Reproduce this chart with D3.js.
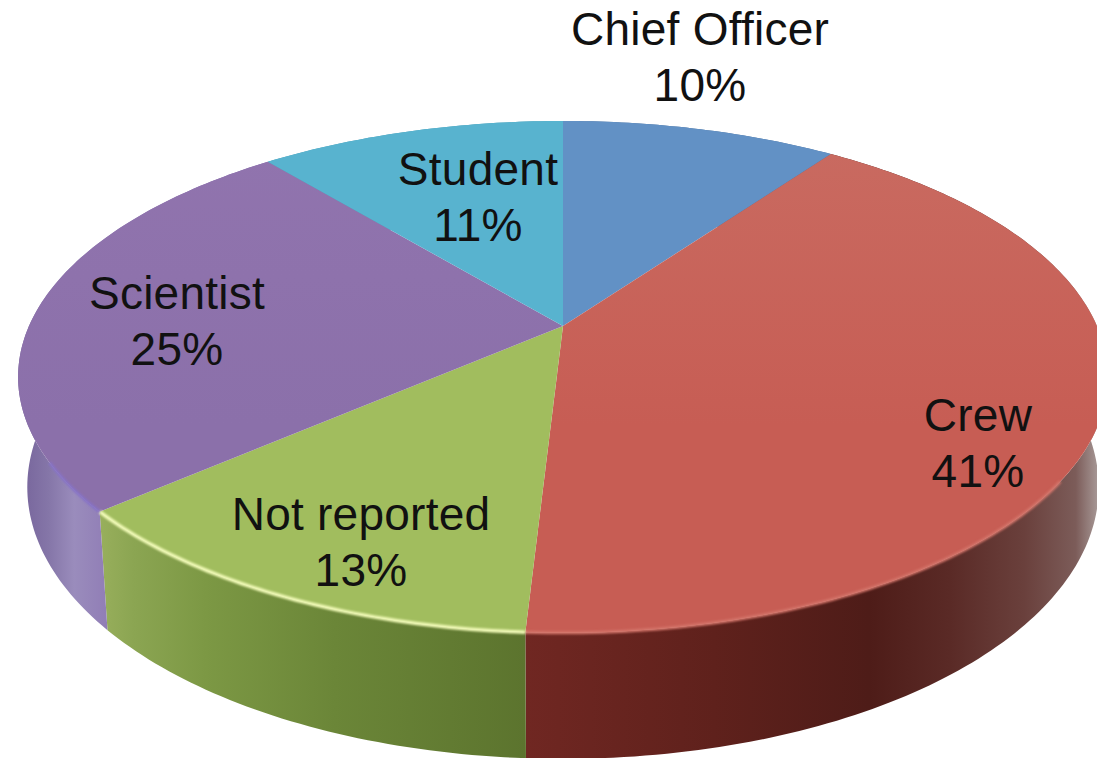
<!DOCTYPE html>
<html>
<head>
<meta charset="utf-8">
<title>Respondents by role</title>
<script src="https://cdn.jsdelivr.net/npm/d3@7"></script>
<style>
  html, body { margin: 0; background: #fff; overflow: hidden; }
  text { font-family: "Liberation Sans", Arial, sans-serif; font-size: 46px; fill: #111; text-anchor: middle; letter-spacing: 0.25px; }
</style>
</head>
<body>
<svg id="chart" width="1097" height="758"></svg>
<script>
// labels round these to 10/41/13/25/11
const categories = ["Chief Officer", "Crew", "Not reported", "Scientist", "Student"];
const shares = [9.9, 41, 12.7, 25.4, 11];

const topColors = ["#6291c5", "#c75d54", "#a1bd5e", "#8b70aa", "#58b3cf"];
const topColorsBack = ["#6291c5", "#c96b61", "#a1bd5e", "#9174ae", "#58b3cf"];

// bevel highlight: colour and which part of the slice's arc it covers
const rimColors = [null, "#d4756a", "#f2fbb8", "#8672c6", null];
const rimSpans = [null, [0.6, 1], [0, 1], [0, 0.12], null];

// offset, colour pairs for the side wall of each slice
const wallStops = [
  [[0, "#4a6f9c"], [1, "#4a6f9c"]],
  [[0, "#702722"], [0.33, "#5f211c"], [0.6, "#4e1c18"], [0.74, "#5a2a26"], [0.87, "#6a403c"], [0.96, "#7c5c59"], [1, "#a89a98"]],
  [[0, "#98af5c"], [0.08, "#8ba552"], [0.25, "#7c9844"], [0.55, "#6b8638"], [1, "#5c742e"]],
  [[0, "#75639a"], [0.12, "#8576a8"], [0.22, "#9a8cbc"], [0.4, "#8d78b4"], [1, "#7c62a8"]],
  [[0, "#4a9cb5"], [1, "#4a9cb5"]]
];

const labelSpots = [[700, 45], [978, 431], [361, 530], [177, 309], [478, 185]];
const lineGap = 55.5;

const svg = d3.select("#chart");
const defs = svg.append("defs");

// the disc is a circle seen in perspective, w squeezes the near side
const tilt = -0.199;
const project = (a, xs, ys) => {
  const u = Math.sin(a), v = -Math.cos(a), w = 1 + tilt * v;
  return [xs(u / w), ys(v / w)];
};
const topX = d3.scaleLinear().domain([-1, 1]).range([563 - 534, 563 + 534]);
const topY = d3.scaleLinear().domain([-1, 1]).range([326 - 245.8, 326 + 245.8]);
const baseX = d3.scaleLinear().domain([-1, 1]).range([563 - 525, 563 + 525]);
const baseY = d3.scaleLinear().domain([-1, 1]).range([433 - 261, 433 + 261]);

const pie = d3.pie().sort(null).value(d => d);
const slices = pie(shares);
const line = d3.line();

const arcAngles = (from, to) => {
  const n = Math.max(2, Math.ceil((to - from) * 60));
  return d3.range(n + 1).map(i => from + (to - from) * i / n);
};
const rimPoints = s => arcAngles(s.startAngle, s.endAngle).map(a => project(a, topX, topY));
const basePoints = s => arcAngles(s.startAngle, s.endAngle).map(a => project(a, baseX, baseY));

defs.append("filter").attr("id", "soft")
  .attr("filterUnits", "userSpaceOnUse")
  .attr("x", 0).attr("y", 0).attr("width", 1097).attr("height", 758)
  .append("feGaussianBlur").attr("stdDeviation", 1);

defs.selectAll("linearGradient.wall")
  .data(slices)
  .join("linearGradient")
  .attr("class", "wall")
  .attr("id", (d, i) => `wall${i}`)
  .attr("gradientUnits", "userSpaceOnUse")
  .attr("x1", d => d3.min(rimPoints(d), p => p[0]))
  .attr("x2", d => d3.max(basePoints(d), p => p[0]))
  .attr("y1", 0).attr("y2", 0)
  .each(function (d, i) {
    d3.select(this).selectAll("stop")
      .data(wallStops[i])
      .join("stop")
      .attr("offset", s => s[0])
      .attr("stop-color", s => s[1]);
  });

defs.selectAll("linearGradient.face")
  .data(slices)
  .join("linearGradient")
  .attr("class", "face")
  .attr("id", (d, i) => `face${i}`)
  .attr("gradientUnits", "userSpaceOnUse")
  .attr("x1", 0).attr("x2", 0)
  .attr("y1", topY(-1)).attr("y2", topY(1))
  .each(function (d, i) {
    d3.select(this).selectAll("stop")
      .data([topColorsBack[i], topColors[i]])
      .join("stop")
      .attr("offset", (c, j) => j * 0.6 + 0.1)
      .attr("stop-color", c => c);
  });

// walls first, the top faces hide whatever is behind
svg.append("g").selectAll("path")
  .data(slices)
  .join("path")
  .attr("d", d => line(rimPoints(d).concat(basePoints(d).reverse())) + "Z")
  .attr("fill", (d, i) => `url(#wall${i})`);

svg.append("g").selectAll("path")
  .data(slices)
  .join("path")
  .attr("d", d => line([[topX(0), topY(0)], ...rimPoints(d)]) + "Z")
  .attr("fill", (d, i) => `url(#face${i})`);

// only the near part of the rim catches the light
svg.append("g").selectAll("path")
  .data(slices.filter(d => rimColors[d.index]))
  .join("path")
  .attr("d", d => {
    const sweep = d3.scaleLinear().range([d.startAngle, d.endAngle]);
    const span = rimSpans[d.index];
    return line(arcAngles(sweep(span[0]), sweep(span[1])).map(a => project(a, topX, topY)));
  })
  .attr("fill", "none")
  .attr("stroke", d => rimColors[d.index])
  .attr("stroke-width", d => d.index === 2 ? 3.5 : 3)
  .attr("filter", "url(#soft)");

const labels = svg.append("g").selectAll("text")
  .data(categories)
  .join("text")
  .attr("transform", (d, i) => `translate(${labelSpots[i][0]},${labelSpots[i][1]})`);
labels.append("tspan").attr("x", 0).attr("y", 0).text(d => d);
labels.append("tspan").attr("x", 0).attr("y", lineGap)
  .text((d, i) => `${Math.round(shares[i])}%`);
</script>
</body>
</html>
